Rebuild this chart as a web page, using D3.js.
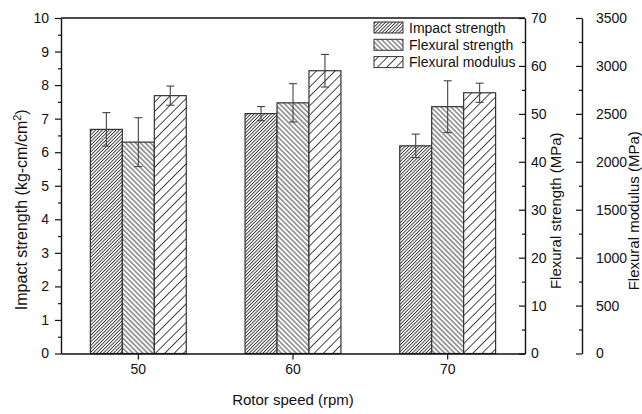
<!DOCTYPE html>
<html>
<head>
<meta charset="utf-8">
<script src="https://cdn.jsdelivr.net/npm/d3@7"></script>
<style>
  html, body { margin: 0; padding: 0; background: #fff; }
  svg { display: block; font-family: Arial, "Liberation Sans", sans-serif; }
</style>
</head>
<body>
<svg id="chart" width="642" height="414"></svg>
<script>
// Rotor speed categories
const speeds = ["50", "60", "70"];
// Impact strength (kg-cm/cm2) with standard deviation
const impact = [6.68, 7.15, 6.19];
const impactErr = [0.5, 0.21, 0.35];
// Flexural strength (MPa)
const flexStrength = [44.1, 52.3, 51.5];
const flexStrengthErr = [5.1, 4.0, 5.4];
// Flexural modulus (MPa)
const flexModulus = [2690, 2950, 2720];
const flexModulusErr = [100, 170, 100];

const seriesNames = ["Impact strength", "Flexural strength", "Flexural modulus"];
const impactTicks = d3.range(0, 11, 1);
const strengthTicks = d3.range(0, 71, 10);
const modulusTicks = d3.range(0, 3501, 500);

const svg = d3.select("#chart");
const plotLeft = 61, plotRight = 525, plotTop = 18, plotBottom = 353.5;
const axis2X = 582;

const x = d3.scaleBand().domain(speeds).range([plotLeft, plotRight])
  .paddingInner(0.38).paddingOuter(0.19);
const xs = d3.scaleBand().domain(seriesNames).range([0, x.bandwidth()]);

const yImpact = d3.scaleLinear().domain([0, 10]).range([plotBottom, plotTop]);
const yStrength = d3.scaleLinear().domain([0, 70]).range([plotBottom, plotTop]);
const yModulus = d3.scaleLinear().domain([0, 3500]).range([plotBottom, plotTop]);

// Hatch patterns
const defs = svg.append("defs");
const hatch = [
  { id: "hImpact", spacing: 2.4, angle: 45 },
  { id: "hStrength", spacing: 3.5, angle: -45 },
  { id: "hModulus", spacing: 6.6, angle: 45 }
];
hatch.forEach(h => {
  const p = defs.append("pattern")
    .attr("id", h.id)
    .attr("patternUnits", "userSpaceOnUse")
    .attr("width", h.spacing).attr("height", h.spacing)
    .attr("patternTransform", `rotate(${h.angle})`);
  p.append("rect").attr("width", h.spacing).attr("height", h.spacing).attr("fill", "#fff");
  p.append("line")
    .attr("x1", h.spacing / 2).attr("x2", h.spacing / 2)
    .attr("y1", 0).attr("y2", h.spacing)
    .attr("stroke", "#333").attr("stroke-width", 0.9);
});

const series = [
  { name: seriesNames[0], values: impact, errs: impactErr, y: yImpact, fill: "url(#hImpact)" },
  { name: seriesNames[1], values: flexStrength, errs: flexStrengthErr, y: yStrength, fill: "url(#hStrength)" },
  { name: seriesNames[2], values: flexModulus, errs: flexModulusErr, y: yModulus, fill: "url(#hModulus)" }
];

// Bars
series.forEach(s => {
  const g = svg.append("g");
  g.selectAll("rect").data(speeds).join("rect")
    .attr("x", (d, i) => x(d) + xs(s.name))
    .attr("y", (d, i) => s.y(s.values[i]))
    .attr("width", xs.bandwidth())
    .attr("height", (d, i) => s.y(0) - s.y(s.values[i]))
    .attr("fill", s.fill)
    .attr("stroke", "#333")
    .attr("stroke-width", 1.2);
});

// Error bars
series.forEach(s => {
  const g = svg.append("g").attr("stroke", "#444").attr("stroke-width", 1.1);
  speeds.forEach((d, i) => {
    const cx = x(d) + xs(s.name) + xs.bandwidth() / 2;
    const hi = s.y(s.values[i] + s.errs[i]);
    const lo = s.y(s.values[i] - s.errs[i]);
    g.append("line").attr("x1", cx).attr("x2", cx).attr("y1", hi).attr("y2", lo);
    g.append("line").attr("x1", cx - 4).attr("x2", cx + 4).attr("y1", hi).attr("y2", hi);
    g.append("line").attr("x1", cx - 4).attr("x2", cx + 4).attr("y1", lo).attr("y2", lo);
  });
});

function styleAxis(g) {
  g.selectAll("path.domain").attr("stroke", "#111").attr("stroke-width", 1.4);
  g.selectAll(".tick line").attr("stroke", "#111").attr("stroke-width", 1.2);
  g.selectAll("text").attr("fill", "#111").style("font-size", "14px");
}

// Frame top line
svg.append("line").attr("x1", plotLeft).attr("x2", plotRight).attr("y1", plotTop).attr("y2", plotTop)
  .attr("stroke", "#111").attr("stroke-width", 1.4);

// Left axis, minor + major ticks
svg.append("g").attr("transform", `translate(${plotLeft},0)`)
  .call(d3.axisLeft(yImpact).tickValues(d3.range(0.5, 10, 1)).tickSize(3).tickFormat(""))
  .call(g => g.select(".domain").remove())
  .call(styleAxis);
svg.append("g").attr("transform", `translate(${plotLeft},0)`)
  .call(d3.axisLeft(yImpact).tickValues(impactTicks).tickSizeInner(6).tickSizeOuter(0).tickPadding(6))
  .call(styleAxis);

// Bottom axis
svg.append("g").attr("transform", `translate(0,${plotBottom})`)
  .call(d3.axisBottom(x).tickSizeInner(6).tickSizeOuter(0).tickPadding(5))
  .call(styleAxis);

// Right axis: flexural strength (ticks inward)
svg.append("g").attr("transform", `translate(${plotRight},0)`)
  .call(d3.axisRight(yStrength).tickValues(d3.range(5, 70, 10)).tickSize(-3).tickFormat(""))
  .call(g => g.select(".domain").remove())
  .call(styleAxis);
svg.append("g").attr("transform", `translate(${plotRight},0)`)
  .call(d3.axisRight(yStrength).tickValues(strengthTicks).tickSizeInner(-6).tickSizeOuter(0).tickPadding(6))
  .call(styleAxis);

// Second right axis: flexural modulus
svg.append("g").attr("transform", `translate(${axis2X},0)`)
  .call(d3.axisRight(yModulus).tickValues(d3.range(250, 3500, 500)).tickSize(-3).tickFormat(""))
  .call(g => g.select(".domain").remove())
  .call(styleAxis);
svg.append("g").attr("transform", `translate(${axis2X},0)`)
  .call(d3.axisRight(yModulus).tickValues(modulusTicks).tickFormat(d3.format("d"))
    .tickSizeInner(-6).tickSizeOuter(0).tickPadding(14))
  .call(styleAxis);

// Axis titles
svg.append("text")
  .attr("x", (plotLeft + plotRight) / 2).attr("y", 405)
  .attr("text-anchor", "middle").style("font-size", "15px").attr("fill", "#111")
  .text("Rotor speed (rpm)");

const lt = svg.append("text")
  .attr("transform", `translate(27,${(plotTop + plotBottom) / 2 + 24}) rotate(-90)`)
  .attr("text-anchor", "middle").style("font-size", "16px").attr("fill", "#111");
lt.append("tspan").text("Impact strength (kg-cm/cm");
lt.append("tspan").attr("baseline-shift", "super").style("font-size", "11px").text("2");
lt.append("tspan").text(")");

svg.append("text")
  .attr("transform", `translate(561,${(plotTop + plotBottom) / 2 + 25}) rotate(-90)`)
  .attr("text-anchor", "middle").style("font-size", "15px").attr("fill", "#111")
  .text("Flexural strength (MPa)");
svg.append("text")
  .attr("transform", `translate(639,${(plotTop + plotBottom) / 2 + 25}) rotate(-90)`)
  .attr("text-anchor", "middle").style("font-size", "15px").attr("fill", "#111")
  .text("Flexural modulus (MPa)");

// Legend
const legend = svg.append("g").attr("transform", "translate(374,22)");
series.forEach((s, i) => {
  const row = legend.append("g").attr("transform", `translate(0,${i * 17.3})`);
  row.append("rect").attr("width", 29).attr("height", 11)
    .attr("fill", s.fill).attr("stroke", "#333").attr("stroke-width", 1);
  row.append("text").attr("x", 35).attr("y", 10.5)
    .style("font-size", "14px").attr("fill", "#111").text(s.name);
});
</script>
</body>
</html>
